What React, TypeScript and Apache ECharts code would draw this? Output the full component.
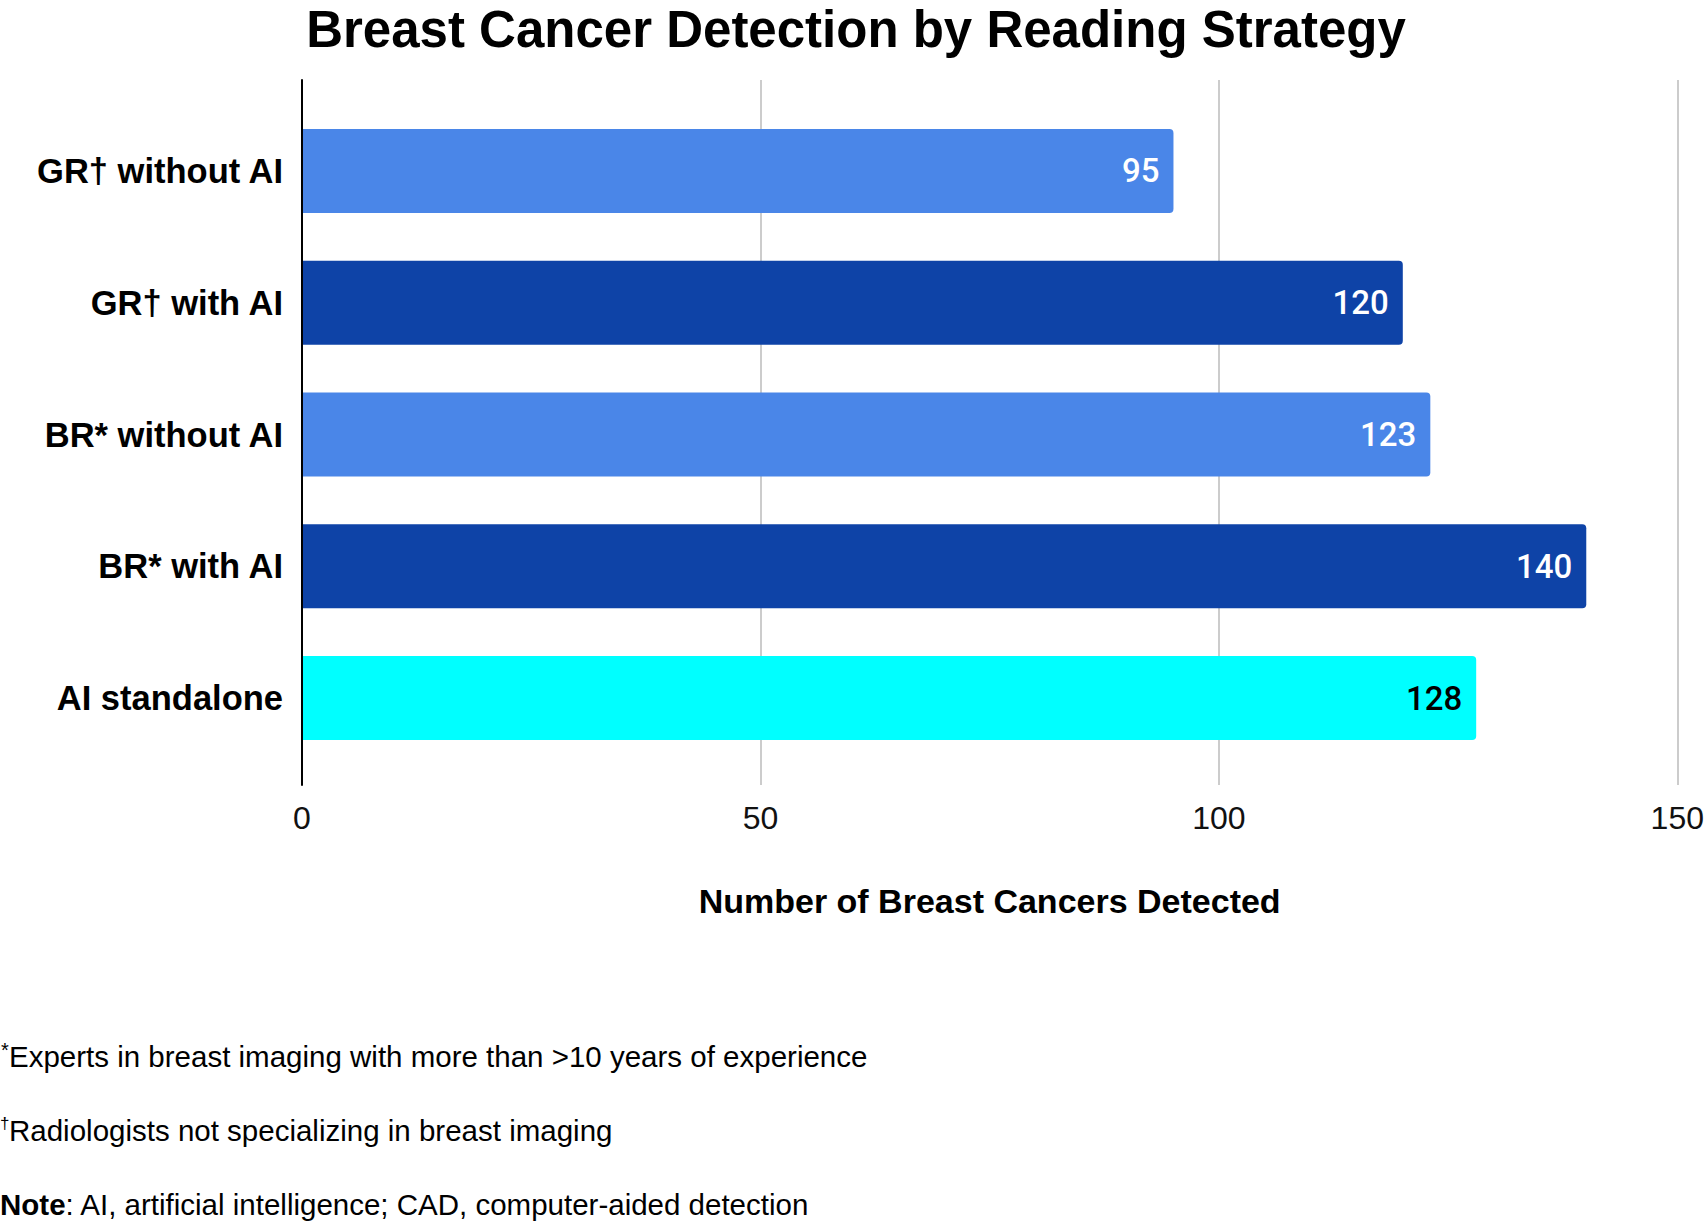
import React, { useEffect, useRef } from "react";
import * as echarts from "echarts";

const categories = ["GR† without AI", "GR† with AI", "BR* without AI", "BR* with AI", "AI standalone"];
const values = [95, 120, 123, 140, 128];
const barColors = ["#4a86e8", "#0e43a7", "#4a86e8", "#0e43a7", "#00ffff"];
const labelColors = ["#ffffff", "#ffffff", "#ffffff", "#ffffff", "#000000"];
const xTicks = [0, 50, 100, 150];
const chartTitle = "Breast Cancer Detection by Reading Strategy";
const xAxisTitle = "Number of Breast Cancers Detected";
const footSup = ["*", "†"];
const footLines = [
  "Experts in breast imaging with more than >10 years of experience",
  "Radiologists not specializing in breast imaging",
];
const noteBold = "Note";
const noteText = ": AI, artificial intelligence; CAD, computer-aided detection";

const SANS = "'Liberation Sans', Arial, Helvetica, sans-serif";

export default function App() {
  const ref = useRef<HTMLDivElement>(null);
  useEffect(() => {
    if (!ref.current) return;
    const chart = echarts.init(ref.current, undefined, { renderer: "svg" });
    const xMin = xTicks[0];
    const xMax = xTicks[xTicks.length - 1];
    const xInt = xTicks[1] - xTicks[0];
    const option: any = {
      animation: false,
      backgroundColor: "#ffffff",
      grid: [
        { left: 302, right: 29, top: 105, bottom: 458 },
        { left: 302, right: 29, top: 80, bottom: 437 },
      ],
      xAxis: [
        { type: "value", gridIndex: 0, min: xMin, max: xMax, interval: xInt, show: false },
        {
          type: "value",
          gridIndex: 1,
          min: xMin,
          max: xMax,
          interval: xInt,
          axisLine: { show: false },
          axisTick: { show: false },
          splitLine: { show: true, lineStyle: { color: "#cccccc", width: 2 } },
          axisLabel: { fontSize: 32, color: "#111111", fontFamily: SANS, margin: 17 },
          name: xAxisTitle,
          nameLocation: "middle",
          nameGap: 116,
          nameTextStyle: {
            fontSize: 34,
            fontWeight: "bold",
            color: "#000000",
            fontFamily: SANS,
            verticalAlign: "middle",
          },
        },
      ],
      yAxis: [
        {
          type: "category",
          gridIndex: 0,
          data: categories,
          inverse: true,
          axisLine: { show: false },
          axisTick: { show: false },
          splitLine: { show: false },
          axisLabel: {
            fontSize: 34.5,
            fontWeight: "bold",
            color: "#000000",
            fontFamily: SANS,
            margin: 19,
          },
        },
        {
          type: "value",
          gridIndex: 1,
          min: 0,
          max: 1,
          z: 5,
          axisLine: { show: true, lineStyle: { color: "#000000", width: 2 } },
          axisTick: { show: false },
          axisLabel: { show: false },
          splitLine: { show: false },
        },
      ],
      series: [
        {
          type: "bar",
          xAxisIndex: 0,
          yAxisIndex: 0,
          barWidth: 84,
          data: values.map((v, i) => ({
            value: v,
            itemStyle: { color: barColors[i], borderRadius: [0, 4, 4, 0] },
            label: { color: labelColors[i] },
          })),
          label: {
            show: true,
            position: "insideRight",
            distance: 14,
            fontSize: 33,
            fontWeight: 500,
            fontFamily: "Roboto, 'Liberation Sans', sans-serif",
          },
        },
      ],
      graphic: [
        {
          type: "text",
          x: 856,
          y: 0,
          style: {
            text: chartTitle,
            fontSize: 51,
            lineHeight: 58,
            fontWeight: "bold",
            fontFamily: SANS,
            fill: "#000000",
            textAlign: "center",
            verticalAlign: "top",
          },
        },
        {
          type: "text",
          x: 1,
          y: 1050,
          style: { text: footSup[0], fontSize: 20, fontFamily: SANS, fill: "#000000", textAlign: "left", verticalAlign: "middle" },
        },
        {
          type: "text",
          x: 9,
          y: 1056,
          style: { text: footLines[0], fontSize: 29.5, fontFamily: SANS, fill: "#000000", textAlign: "left", verticalAlign: "middle" },
        },
        {
          type: "text",
          x: 0,
          y: 1123,
          style: { text: footSup[1], fontSize: 17, fontFamily: SANS, fill: "#000000", textAlign: "left", verticalAlign: "middle" },
        },
        {
          type: "text",
          x: 9,
          y: 1130,
          style: { text: footLines[1], fontSize: 29.5, fontFamily: SANS, fill: "#000000", textAlign: "left", verticalAlign: "middle" },
        },
        {
          type: "text",
          x: 0,
          y: 1204,
          style: {
            text: "{b|" + noteBold + "}" + noteText,
            fontSize: 29.5,
            fontFamily: SANS,
            fill: "#000000",
            textAlign: "left",
            verticalAlign: "middle",
            rich: { b: { fontSize: 29.5, fontWeight: "bold", fontFamily: SANS, fill: "#000000" } },
          },
        },
      ],
    };
    chart.setOption(option);
    return () => chart.dispose();
  }, []);
  return (
    <div
      ref={ref}
      style={{ position: "fixed", left: 0, top: 0, width: 1707, height: 1222, background: "#ffffff" }}
    />
  );
}
